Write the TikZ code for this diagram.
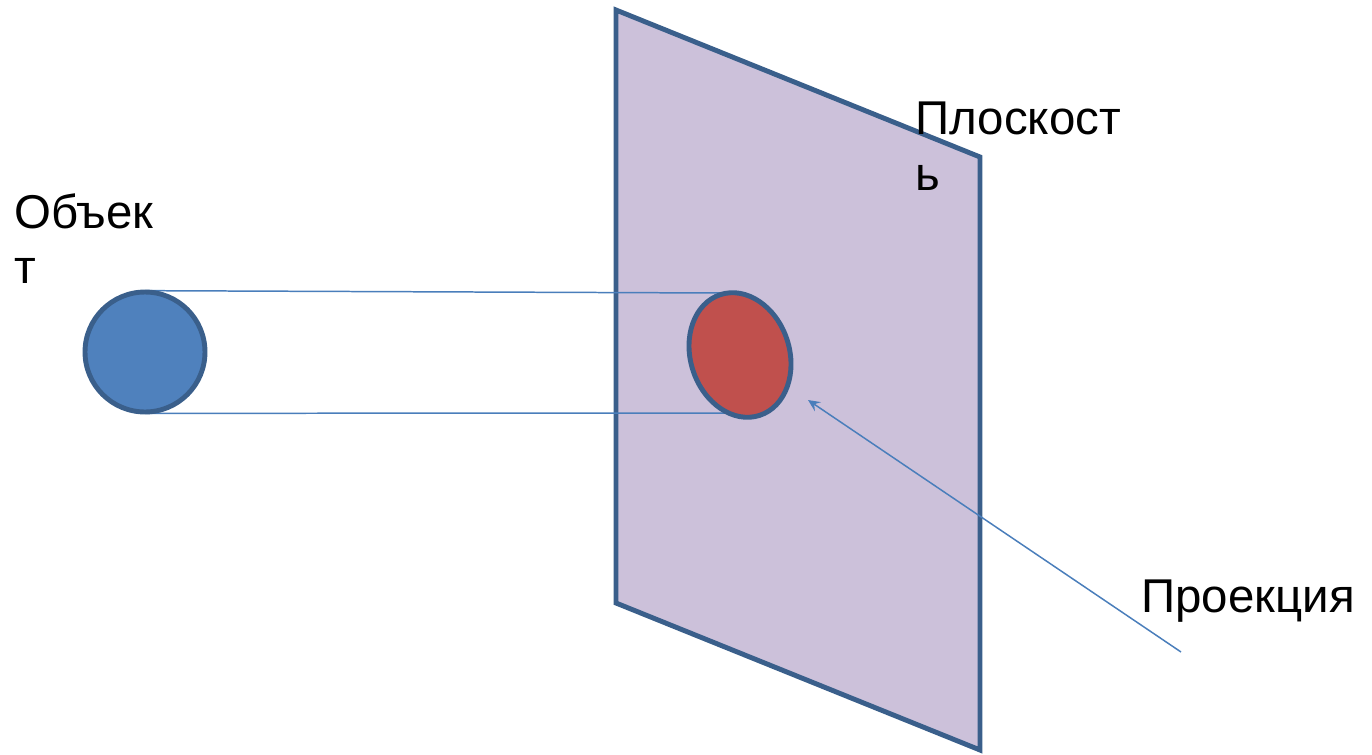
\documentclass[tikz,border=0pt]{standalone}
\usepackage{fontspec}
\setmainfont{Liberation Sans}
\usetikzlibrary{positioning, calc, arrows.meta, shapes.geometric}
\definecolor{planefill}{HTML}{CCC1DA}
\definecolor{edgeblue}{HTML}{3A5F8B}
\definecolor{objblue}{HTML}{4F81BD}
\definecolor{projred}{HTML}{C0504D}
\definecolor{rayblue}{HTML}{4A7EBB}
\tikzset{
  label text/.style={font=\fontsize{27}{31.4}\selectfont, align=left, inner sep=0pt, anchor=north west},
  ray/.style={draw=rayblue, line width=0.85pt},
  thick edge/.style={draw=edgeblue, line width=2.8pt}
}
\begin{document}
\begin{tikzpicture}[x=0.02cm, y=-0.02cm]
    \useasboundingbox (0,0) rectangle (1372,754);

    % Projection plane (skewed rectangle)
    \coordinate (pTL) at (616,10);
    \coordinate (pTR) at (980,157);
    \coordinate (pBR) at (980,750);
    \coordinate (pBL) at (616,603);
    \draw[thick edge, fill=planefill, line join=miter] (pTL) -- (pTR) -- (pBR) -- (pBL) -- cycle;

    % Object and its projection
    \node[circle, minimum size=2.44cm, inner sep=0pt] (obj) at (145,352) {};
    \node[ellipse, minimum width=2.02cm, minimum height=2.6cm, inner sep=0pt, rotate=18] (proj) at (740,355) {};

    % Projection rays
    \coordinate (rayA) at (722,293);
    \coordinate (rayB) at (728,413);
    \draw[ray] (obj.north) -- (rayA);
    \draw[ray] (obj.south) -- (rayB);

    \draw[thick edge, fill=objblue] (obj.center) circle[radius=1.2cm];
    \draw[thick edge, fill=projred] (proj.center) ellipse[x radius=0.99cm, y radius=1.27cm, rotate=18];

    % Pointer to the projection
    \coordinate (tail) at (1181,652);
    \coordinate (tip) at (808,400);
    \draw[ray, -{Stealth[length=2.4mm, width=2.2mm, inset=0.9mm]}] (tail) -- (tip);

    % Labels
    \node[label text] (objtext) at (14,193) {Объек\\т};
    \node[label text] (planetext) at (915,102) {Плоскост\\ь};
    \node[label text] (projtext) at (1141,580) {Проекция};

\end{tikzpicture}
\end{document}
